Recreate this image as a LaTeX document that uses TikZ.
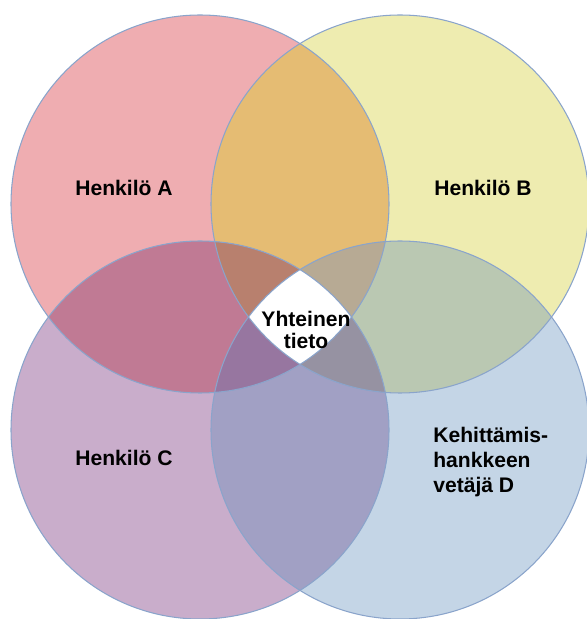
\documentclass[tikz,border=0pt]{standalone}
\usepackage{fontspec}
\setmainfont{Liberation Sans}
\definecolor{colA}{HTML}{EFADB1}
\definecolor{colB}{HTML}{EEECB0}
\definecolor{colC}{HTML}{C9ADCB}
\definecolor{colD}{HTML}{C4D5E6}
\definecolor{colAB}{HTML}{E5BC73}
\definecolor{colAC}{HTML}{C07A94}
\definecolor{colBD}{HTML}{BAC8B2}
\definecolor{colCD}{HTML}{A1A0C4}
\definecolor{colABC}{HTML}{B8806E}
\definecolor{colABD}{HTML}{B7AA94}
\definecolor{colACD}{HTML}{9776A0}
\definecolor{colBCD}{HTML}{9692A2}
\definecolor{ringcol}{HTML}{8AA4CB}
\begin{document}
\begin{tikzpicture}[x=0.02cm, y=0.02cm,
    ring/.style={draw=ringcol, line width=0.6pt},
    lbl/.style={font=\bfseries\fontsize{12}{14.4}\selectfont, inner sep=0pt, align=left}]
        \useasboundingbox (0,0) rectangle (587,619);
        \def\r{189}
        \coordinate (A) at (200,415);
        \coordinate (B) at (400,415);
        \coordinate (C) at (200,189);
        \coordinate (D) at (400,189);
        \foreach \c in {A,B,C,D}
        {
            \fill[col\c] (\c) circle[radius=\r];
        }
        \foreach \p/\q in {A/B,A/C,B/D,C/D}
        {
            \begin{scope}
                \clip (\p) circle[radius=\r];
                \fill[col\p\q] (\q) circle[radius=\r];
            \end{scope}
        }
        \foreach \p/\q/\s in {A/B/C,A/B/D,A/C/D,B/C/D}
        {
            \begin{scope}
                \clip (\p) circle[radius=\r];
                \clip (\q) circle[radius=\r];
                \fill[col\p\q\s] (\s) circle[radius=\r];
            \end{scope}
        }
        \begin{scope}
            \clip (A) circle[radius=\r];
            \clip (B) circle[radius=\r];
            \clip (C) circle[radius=\r];
            \fill[white] (D) circle[radius=\r];
        \end{scope}
        \foreach \c in {A,B,C,D}
        {
            \draw[ring] (\c) circle[radius=\r];
        }
        \node[lbl] (hA) at (124,431){Henkilö A};
        \node[lbl] (hB) at (483,431){Henkilö B};
        \node[lbl] (hC) at (124,161){Henkilö C};
        \node[lbl, anchor=west] (hD) at (433,157){Kehittämis-\\hankkeen\\vetäjä D};
        \node[lbl, align=center, font=\bfseries\fontsize{12}{12.5}\selectfont] (yht) at (306,289){Yhteinen\\tieto};
        \end{tikzpicture}
\end{document}
